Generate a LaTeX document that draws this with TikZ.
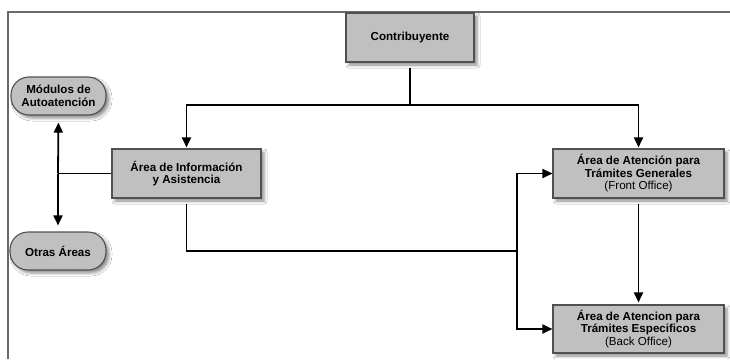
\documentclass[tikz,border=0pt]{standalone}
\usepackage{fontspec}
\setmainfont{Liberation Sans}
\usetikzlibrary{arrows.meta,shadows.blur}
\definecolor{boxfill}{HTML}{C0C0C0}
\definecolor{boxline}{HTML}{505050}
\definecolor{framegray}{HTML}{6A6A6A}
\begin{document}
\begin{tikzpicture}[x=1pt,y=-1pt,
  boxshadow/.style={blur shadow={shadow xshift=3pt,shadow yshift=-3pt,shadow blur radius=3pt,shadow opacity=45}},
  procbox/.style={draw=boxline,line width=1.1pt,fill=boxfill,rectangle,inner sep=0pt,
    minimum height=49pt,align=center,boxshadow,
    font=\bfseries\fontsize{11.6}{12.5}\selectfont},
  capsule/.style={draw=boxline,line width=1.1pt,fill=boxfill,rounded corners=18pt,inner sep=0pt,
    minimum height=38pt,align=center,boxshadow,
    font=\bfseries\fontsize{11.6}{12.5}\selectfont},
  conn/.style={line width=1.8pt,black},
  arr/.style={conn,-{Triangle[length=10pt,width=9pt]}}]
\useasboundingbox (0,0) rectangle (730,359);
\fill[white] (0,0) rectangle (730,359);
% frame
\draw[framegray,line width=1.3pt] (8,359) -- (8,12) -- (730,12);
% nodes
\node[procbox,minimum width=128pt] (contrib) at (410,37.5) {Contribuyente};
\node[procbox,minimum width=149pt] (info) at (186.5,173.5) {Área de Información\\y Asistencia};
\node[procbox,minimum width=171pt] (fo) at (638.5,173.5) {Área de Atención para\\Trámites Generales\\{\mdseries (Front Office)}};
\node[procbox,minimum width=171pt,minimum height=48pt] (bo) at (638.5,329) {Área de Atencion para\\Trámites Especificos\\{\mdseries (Back Office)}};
\node[capsule,minimum width=95pt] (mod) at (58.5,96) {Módulos de\\Autoatención};
\node[capsule,minimum width=96pt] (otras) at (58,251) {Otras Áreas};
% junctions
\coordinate (jtop) at (410,105);
\coordinate (jleft) at (58,173.5);
\coordinate (jright) at (517,251);
% connectors
\draw[conn,shorten <=5pt] (contrib.south) -- (jtop);
\draw[arr,shorten >=1pt] (jtop) -| (info.north);
\draw[arr,shorten >=1pt] (jtop) -| (fo.north);
\draw[conn] (info.west) -- (jleft);
\draw[arr,shorten >=7pt] (jleft) -- (mod.south);
\draw[arr,shorten >=6pt] (jleft) -- (otras.north);
\draw[conn,shorten <=5pt] (info.south) |- (jright);
\draw[arr] (jright) |- (fo.west);
\draw[arr] (jright) |- (bo.west);
\draw[arr,shorten <=5pt,shorten >=2pt] (fo.south) -- (bo.north);
\end{tikzpicture}
\end{document}
